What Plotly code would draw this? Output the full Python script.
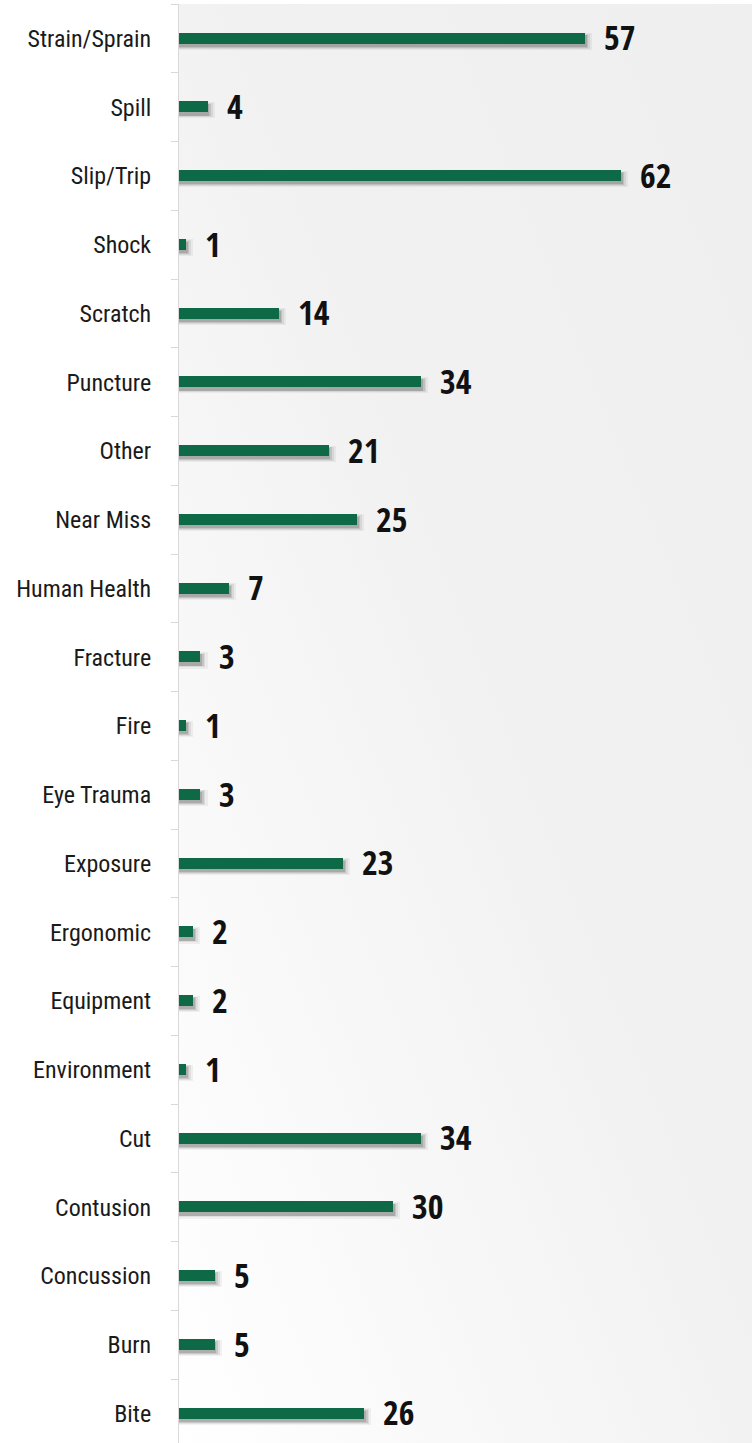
import base64
import plotly.graph_objects as go

categories = ["Strain/Sprain", "Spill", "Slip/Trip", "Shock", "Scratch", "Puncture", "Other",
              "Near Miss", "Human Health", "Fracture", "Fire", "Eye Trauma", "Exposure",
              "Ergonomic", "Equipment", "Environment", "Cut", "Contusion", "Concussion",
              "Burn", "Bite"]
values = [57, 4, 62, 1, 14, 34, 21, 25, 7, 3, 1, 3, 23, 2, 2, 1, 34, 30, 5, 5, 26]

BAR = "#0e6a46"
VALUE_FONT = "Open Sans Condensed, Noto Sans Condensed, Roboto Condensed, Roboto, sans-serif"
TICK_FONT = "Noto Sans Condensed, Roboto Condensed, Liberation Sans Narrow, DejaVu Sans Condensed, Roboto, sans-serif"

fig = go.Figure()

# soft drop shadow (layered translucent bars)
for w, off, ext, op in [(0.24, -0.075, 1.0, 0.06), (0.21, -0.062, 0.7, 0.09),
                        (0.185, -0.05, 0.45, 0.13), (0.165, -0.042, 0.25, 0.18)]:
    fig.add_trace(go.Bar(
        y=categories, x=[v + ext for v in values], orientation="h",
        width=w, offset=off,
        marker=dict(color=f"rgba(50,50,50,{op})", line=dict(width=0)),
        hoverinfo="skip", showlegend=False,
    ))

fig.add_trace(go.Bar(
    y=categories, x=values, orientation="h",
    width=0.16, offset=-0.085,
    marker=dict(color=BAR, line=dict(width=0)),
    showlegend=False,
))

for c, v in zip(categories, values):
    fig.add_annotation(x=v, y=c, text=str(v), showarrow=False, xanchor="left",
                       xshift=17, yshift=1,
                       font=dict(family=VALUE_FONT, size=34, color="#111111", weight="bold"))

svg = ('<svg xmlns="http://www.w3.org/2000/svg" width="100" height="100" preserveAspectRatio="none">'
       '<defs><linearGradient id="g" x1="1" y1="0" x2="0" y2="1">'
       '<stop offset="0" stop-color="#efefef"/><stop offset="0.45" stop-color="#f1f1f1"/>'
       '<stop offset="1" stop-color="#ffffff"/></linearGradient></defs>'
       '<rect width="100" height="100" fill="url(#g)"/></svg>')
src = "data:image/svg+xml;base64," + base64.b64encode(svg.encode()).decode()

fig.update_layout(
    width=754, height=1443,
    margin=dict(l=179, r=2, t=4, b=0, autoexpand=False),
    paper_bgcolor="white", plot_bgcolor="rgba(0,0,0,0)",
    barmode="overlay", bargap=0,
    images=[dict(source=src, xref="paper", yref="paper", x=0, y=1, sizex=1, sizey=1,
                 sizing="stretch", layer="below", xanchor="left", yanchor="top")],
    xaxis=dict(range=[0, 80.4], visible=False, fixedrange=True, automargin=False),
    yaxis=dict(type="category", categoryorder="array", categoryarray=categories,
               range=[20.43, -0.5], showline=True, linecolor="#d9d9d9", linewidth=1,
               ticks="outside", tickson="boundaries", ticklen=7, tickcolor="#d9d9d9",
               showgrid=False, zeroline=False, ticklabelstandoff=22, automargin=False,
               tickfont=dict(family=TICK_FONT, size=24, color="#1a1a1a")),
)

fig.write_html("out.html", config={"displayModeBar": False},
               post_script="document.body.style.margin='0';")
